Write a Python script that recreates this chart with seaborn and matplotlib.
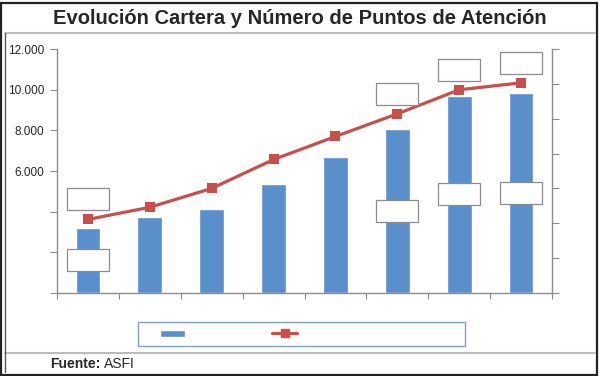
import numpy as np
import pandas as pd
import seaborn as sns
import matplotlib.pyplot as plt
import matplotlib.transforms as mtransforms
from matplotlib.patches import Rectangle
from matplotlib.lines import Line2D

sns.set_style('white')
plt.rcParams['font.family'] = ['Liberation Sans', 'DejaVu Sans']

# data (axis labels in the original are blanked out)
years = ['2005', '2006', '2007', '2008', '2009', '2010', '2011', '2012']
cartera = [3200, 3740, 4130, 5360, 6690, 8070, 9690, 9840]
puntos = [1055, 1230, 1500, 1915, 2245, 2570, 2915, 3015]
# categories whose value labels show as empty boxes
boxed = [0, 5, 6, 7]

bar_color = '#5B8FCC'
line_color = '#C8504C'
grey = '#8C8C8C'

df = pd.DataFrame({'year': years, 'cartera': cartera, 'puntos': puntos,
                   'pos': np.arange(len(years))})

fig = plt.figure(figsize=(6, 3.76), dpi=100)
ax = fig.add_axes([57/600, 1 - 293/376, 495/600, 244/376])

sns.barplot(data=df, x='year', y='cartera', color=bar_color, width=0.4,
            saturation=1, ax=ax)
ax.set_xlim(-0.5, len(years) - 0.5)
ax.set_ylim(0, 12000)
ax.set_yticks(np.arange(0, 12001, 2000))
ax.set_yticklabels(['', '', ''] + [f'{v:,.0f}'.replace(',', '.') for v in range(6000, 12001, 2000)])
ax.set_xticks(np.arange(-0.5, len(years)))
ax.set_xticklabels([])
ax.set_xlabel('')
ax.set_ylabel('')

ax2 = ax.twinx()
sns.lineplot(data=df, x='pos', y='puntos', color=line_color, linewidth=2.3,
             marker='s', markersize=7.5, markeredgewidth=0, ax=ax2)
ax2.set_ylim(0, 3500)
ax2.set_yticks(np.arange(0, 3501, 500))
ax2.set_yticklabels([])
ax2.set_ylabel('')
ax2.set_xlim(-0.5, len(years) - 0.5)

for a in (ax, ax2):
    a.spines['top'].set_visible(False)
    for side in ('left', 'right', 'bottom'):
        a.spines[side].set_color(grey)
        a.spines[side].set_linewidth(1.0)
ax.spines['right'].set_visible(False)
ax2.spines['left'].set_visible(False)
ax2.spines['bottom'].set_visible(False)
ax.tick_params(axis='y', which='both', left=True, length=5, color=grey,
               labelsize=8.5, pad=4)
ax.tick_params(axis='x', bottom=True, length=4, color=grey, direction='out')
ax2.tick_params(axis='y', right=True, length=5, color=grey)

# empty label boxes: above the line markers and centred in the bars
def empty_box(axis, xd, yd, dy_px):
    tr = fig.dpi_scale_trans + mtransforms.ScaledTranslation(xd, yd, axis.transData)
    w, h = 0.42, 0.22
    axis.add_patch(Rectangle((-w/2, dy_px/100 - h/2), w, h, transform=tr,
                             facecolor='white', edgecolor=grey, linewidth=0.9,
                             zorder=5, clip_on=False))

for i in boxed:
    empty_box(ax2, i, puntos[i], 20)
    empty_box(ax, i, cartera[i] / 2, 0)

# legend with blanked-out labels
fig.patches.append(Rectangle((138/600, 1 - 346/376), 327/600, 24/376,
                             transform=fig.transFigure, facecolor='white',
                             edgecolor='#7F9FCF', linewidth=1.0))
handles = [Rectangle((0, 0), 1, 1, facecolor=bar_color),
           Line2D([], [], color=line_color, linewidth=2.3, marker='s', markersize=6)]
leg = fig.legend(handles, ['', ''], ncol=2, loc='center left',
                 bbox_to_anchor=(149/600, 1 - 334/376), frameon=False,
                 columnspacing=7.6, handlelength=2.2, handleheight=0.6,
                 borderpad=0.5, handletextpad=0.3, fontsize=8)

fig.text(0.5, 1 - 18/376, 'Evolución Cartera y Número de Puntos de Atención',
         ha='center', va='center', fontsize=14.5, fontweight='bold')
fig.text(50/600, 1 - 364/376, 'Fuente:', ha='left', va='center',
         fontsize=10, fontweight='bold')
fig.text(104/600, 1 - 364/376, 'ASFI', ha='left', va='center', fontsize=10)

# frames
fig.patches.append(Rectangle((1/600, 1/376), 596/600, 372/376,
                             transform=fig.transFigure, fill=False,
                             edgecolor='#222222', linewidth=1.6))
fig.lines.append(Line2D([5/600, 595/600], [1 - 33/376] * 2, transform=fig.transFigure,
                        color='#BBBBBB', linewidth=1.5))
fig.lines.append(Line2D([5/600, 595/600], [1 - 353/376] * 2, transform=fig.transFigure,
                        color='#BBBBBB', linewidth=1.5))
fig.lines.append(Line2D([5/600] * 2, [1 - 33/376, 1 - 372/376], transform=fig.transFigure,
                        color='#555555', linewidth=1.0))

fig.savefig('out.png', dpi=100)
